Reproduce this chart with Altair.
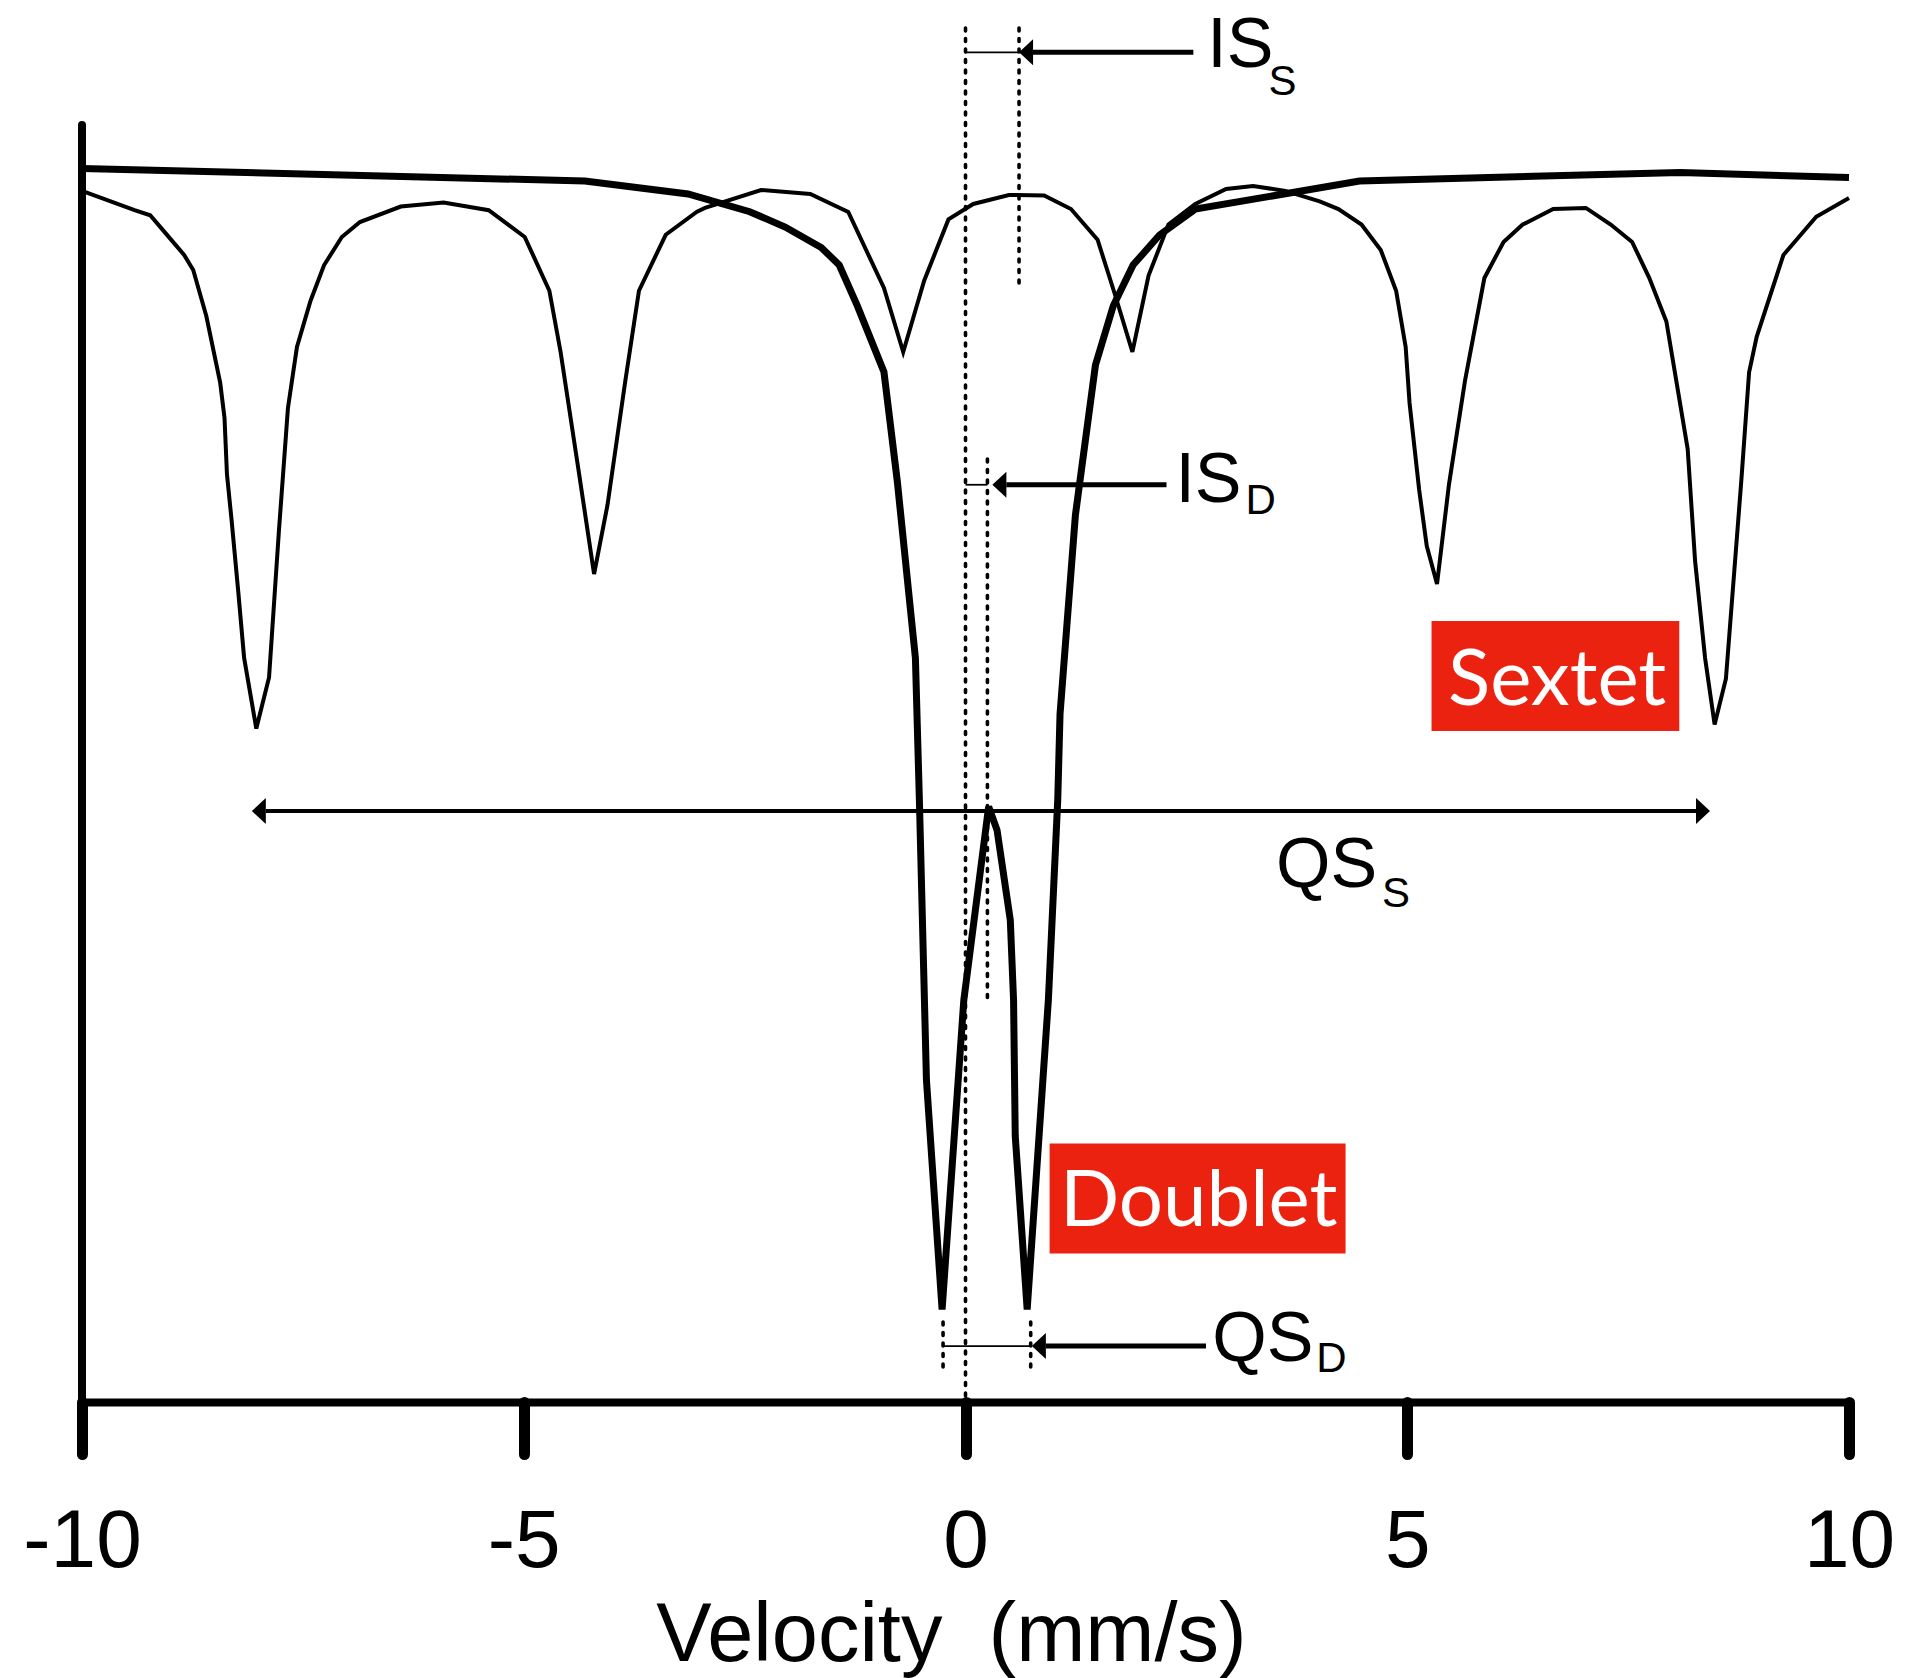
import altair as alt
import pandas as pd

# ---------------- data (velocity in mm/s, relative transmission in arbitrary units) -------------
sextet_v = [-10.0, -9.405, -9.228, -9.050, -8.844, -8.741, -8.593, -8.436, -8.387, -8.359,
            -8.307, -8.231, -8.165, -8.027, -7.883, -7.771, -7.669, -7.567, -7.414, -7.261,
            -7.059, -6.854, -6.392, -5.907, -5.397, -4.989, -4.710, -4.583, -4.381, -4.204,
            -4.052, -3.849, -3.696, -3.393, -3.039, -2.948, -2.315, -1.757, -1.327, -0.923,
            -0.705, -0.468, -0.193, 0.088, 0.491, 0.890, 1.194, 1.495, 1.697, 1.889,
            2.072, 2.297, 2.601, 2.950, 3.255, 3.620, 4.009, 4.221, 4.482, 4.700,
            4.874, 4.982, 5.026, 5.135, 5.221, 5.337, 5.472, 5.655, 5.873, 6.090,
            6.307, 6.652, 7.022, 7.303, 7.545, 7.740, 7.933, 8.174, 8.258, 8.371,
            8.479, 8.607, 8.782, 8.869, 8.955, 9.258, 9.629, 10.0]
sextet_t = [87.63, 86.25, 85.87, 84.54, 83.00, 81.91, 78.58, 73.76, 71.20, 67.11,
            63.82, 58.61, 53.84, 48.73, 52.42, 63.05, 71.92, 76.34, 79.67, 82.25,
            84.30, 85.38, 86.50, 86.79, 86.24, 84.30, 80.41, 75.98, 67.48, 59.91,
            64.91, 73.95, 80.41, 84.46, 86.13, 86.40, 87.70, 87.41, 86.11, 80.61,
            75.98, 81.14, 85.57, 86.69, 87.34, 87.31, 86.32, 84.10, 80.03, 75.98,
            81.51, 85.20, 86.69, 87.77, 87.99, 87.63, 86.87, 86.32, 85.20, 83.36,
            80.41, 76.34, 72.29, 65.99, 61.94, 59.19, 66.38, 73.95, 81.33, 83.94,
            85.20, 86.32, 86.40, 85.20, 83.94, 81.33, 78.19, 68.96, 60.85, 53.84,
            49.02, 52.34, 66.74, 74.50, 77.08, 83.00, 85.76, 87.12]

doublet_v = [-10.0, -4.308, -3.141, -2.442, -2.041, -1.633, -1.429, -1.224, -0.923, -0.771,
             -0.567, -0.522, -0.442, -0.265, -0.019, 0.262, 0.357, 0.507, 0.544, 0.563,
             0.698, 0.938, 1.044, 1.070, 1.244, 1.471, 1.672, 1.897, 2.196, 2.601,
             3.604, 4.459, 8.090, 10.0]
doublet_t = [89.26, 88.35, 87.41, 86.13, 85.02, 83.54, 82.27, 79.31, 74.53, 66.57,
             53.84, 43.56, 23.30, 6.69, 29.09, 43.08, 41.39, 34.88, 29.09, 19.25,
             6.69, 29.09, 43.56, 49.78, 64.18, 75.04, 79.31, 82.27, 84.44, 86.32,
             87.41, 88.35, 88.97, 88.60]

tick_values = [-10, -5, 0, 5, 10]
y_axis_top = [92.40]

# dotted reference lines (IS_S, IS_D, QS_D)
dotted_x = [0.0, 0.606, 0.248, -0.254, 0.738]
dotted_top = [99.42, 99.42, 68.23, 5.79, 5.79]
dotted_bottom = [0.43, 80.61, 29.02, 2.17, 2.17]

# thin connectors between reference lines
conn_x1 = [0.0, 0.0, -0.254]
conn_x2 = [0.606, 0.248, 0.738]
conn_y = [97.66, 66.37, 4.05]

# single (left-pointing) arrows: tip, tail, height
arrow_tip = [0.606, 0.304, 0.751]
arrow_tail = [2.579, 2.275, 2.722]
arrow_y = [97.66, 66.37, 4.05]

# double arrow for QS_S
qs_left = [-8.078]
qs_right = [8.427]
qs_y = [42.76]

# labels with subscripts
label_text = ["IS", "IS", "QS", "QS"]
label_x = [2.736, 2.376, 3.514, 2.793]
label_y = [96.60, 65.12, 37.26, 2.97]
sub_text = ["S", "D", "S", "D"]
sub_x = [3.430, 3.170, 4.715, 3.970]
sub_y = [94.57, 64.25, 35.82, 2.17]

# red boxes
box_text = ["Sextet", "Doublet"]
box_x1 = [5.275, 0.952]
box_x2 = [8.079, 4.302]
box_y1 = [48.55, 10.75]
box_y2 = [56.51, 18.70]
box_tx = [6.697, 2.640]
box_ty = [50.43, 12.74]

# ---------------- chart ----------------
HEAD = 0.158  # arrowhead length in data units
FONT = "Liberation Sans"

XS = alt.Scale(domain=[-10, 10], nice=False, zero=False)
YS = alt.Scale(domain=[0, 100], nice=False, zero=False)
X_AXIS = alt.Axis(
    values=tick_values,
    labelExpr="(datum.value < 0 ? '-' : '') + abs(datum.value)",
    labelFont=FONT, labelFontSize=82, labelColor="black",
    labelBaseline="alphabetic", labelAlign="center", labelPadding=112,
    labelFlush=False, labelOverlap=False,
    tickSize=52, tickWidth=11, tickCap="round", tickColor="black",
    domainColor="black", domainWidth=8, grid=False,
    title="Velocity\u00a0 (mm/s)", titleFont=FONT, titleFontSize=83,
    titleFontWeight="normal", titleColor="black", titleBaseline="alphabetic",
    titleAlign="center", titleX=869, titleY=258,
)


def xq(field):
    return alt.X(field, type="quantitative", scale=XS, axis=X_AXIS)


def yq(field):
    return alt.Y(field, type="quantitative", scale=YS, axis=None)


sextet = pd.DataFrame({"v": sextet_v, "t": sextet_t, "i": list(range(len(sextet_v)))})
doublet = pd.DataFrame({"v": doublet_v, "t": doublet_t, "i": list(range(len(doublet_v)))})

sextet_line = alt.Chart(sextet).mark_line(color="black", strokeWidth=4).encode(
    x=xq("v"), y=yq("t"), order="i:Q")
doublet_line = alt.Chart(doublet).mark_line(color="black", strokeWidth=7).encode(
    x=xq("v"), y=yq("t"), order="i:Q")

yaxis_df = pd.DataFrame({"x": [tick_values[0]], "b": [0.0], "t": y_axis_top})
yaxis_rule = alt.Chart(yaxis_df).mark_rule(color="black", strokeWidth=8, strokeCap="round").encode(
    x=xq("x"), y=yq("t"), y2=alt.Y2("b"))

dotted_df = pd.DataFrame({"x": dotted_x, "t": dotted_top, "b": dotted_bottom})
dotted = alt.Chart(dotted_df).mark_rule(
    color="black", strokeWidth=3.6, strokeDash=[3, 7.5], strokeCap="round").encode(
    x=xq("x"), y=yq("t"), y2=alt.Y2("b"))

conn_df = pd.DataFrame({"x1": conn_x1, "x2": conn_x2, "y": conn_y})
connectors = alt.Chart(conn_df).mark_rule(color="black", strokeWidth=1.8).encode(
    x=xq("x1"), x2=alt.X2("x2"), y=yq("y"))

shaft_df = pd.DataFrame({
    "x1": [t + HEAD for t in arrow_tip] + [qs_left[0] + HEAD],
    "x2": arrow_tail + [qs_right[0] - HEAD],
    "y": arrow_y + qs_y,
    "w": [5, 5, 5, 4],
})
shafts = alt.Chart(shaft_df).mark_rule(color="black").encode(
    x=xq("x1"), x2=alt.X2("x2"), y=yq("y"),
    strokeWidth=alt.StrokeWidth("w:Q", scale=None, legend=None))

left_heads_df = pd.DataFrame({"x": arrow_tip + qs_left, "y": arrow_y + qs_y})
right_heads_df = pd.DataFrame({"x": qs_right, "y": qs_y})
left_heads = alt.Chart(left_heads_df).mark_point(
    shape="M0,0L1,-0.93L1,0.93Z", size=784, filled=True, color="black",
    opacity=1, strokeWidth=0).encode(x=xq("x"), y=yq("y"))
right_heads = alt.Chart(right_heads_df).mark_point(
    shape="M0,0L-1,-0.93L-1,0.93Z", size=784, filled=True, color="black",
    opacity=1, strokeWidth=0).encode(x=xq("x"), y=yq("y"))

lab_df = pd.DataFrame({"x": label_x, "y": label_y, "text": label_text})
labels = alt.Chart(lab_df).mark_text(
    font=FONT, fontSize=70, color="black", align="left", baseline="alphabetic").encode(
    x=xq("x"), y=yq("y"), text="text:N")
sub_df = pd.DataFrame({"x": sub_x, "y": sub_y, "text": sub_text})
subs = alt.Chart(sub_df).mark_text(
    font=FONT, fontSize=42, color="black", align="left", baseline="alphabetic").encode(
    x=xq("x"), y=yq("y"), text="text:N")

box_df = pd.DataFrame({"x1": box_x1, "x2": box_x2, "y1": box_y1, "y2": box_y2,
                       "tx": box_tx, "ty": box_ty, "text": box_text})
boxes = alt.Chart(box_df).mark_rect(color="#EC2210").encode(
    x=xq("x1"), x2=alt.X2("x2"), y=yq("y1"), y2=alt.Y2("y2"))
box_labels = alt.Chart(box_df).mark_text(
    font="Lato", fontSize=78, color="white", align="center", baseline="alphabetic").encode(
    x=xq("tx"), y=yq("ty"), text="text:N")

chart = alt.layer(
    sextet_line, doublet_line, yaxis_rule, dotted, connectors, shafts,
    left_heads, right_heads, labels, subs, boxes, box_labels,
).properties(
    width=1767, height=1382,
    padding={"left": 82, "top": 20, "right": 57, "bottom": 276},
    autosize=alt.AutoSizeParams(type="none"),
    background="white",
).configure_view(stroke=None)

chart.save("out.html", embed_options={"renderer": "svg", "actions": False})
